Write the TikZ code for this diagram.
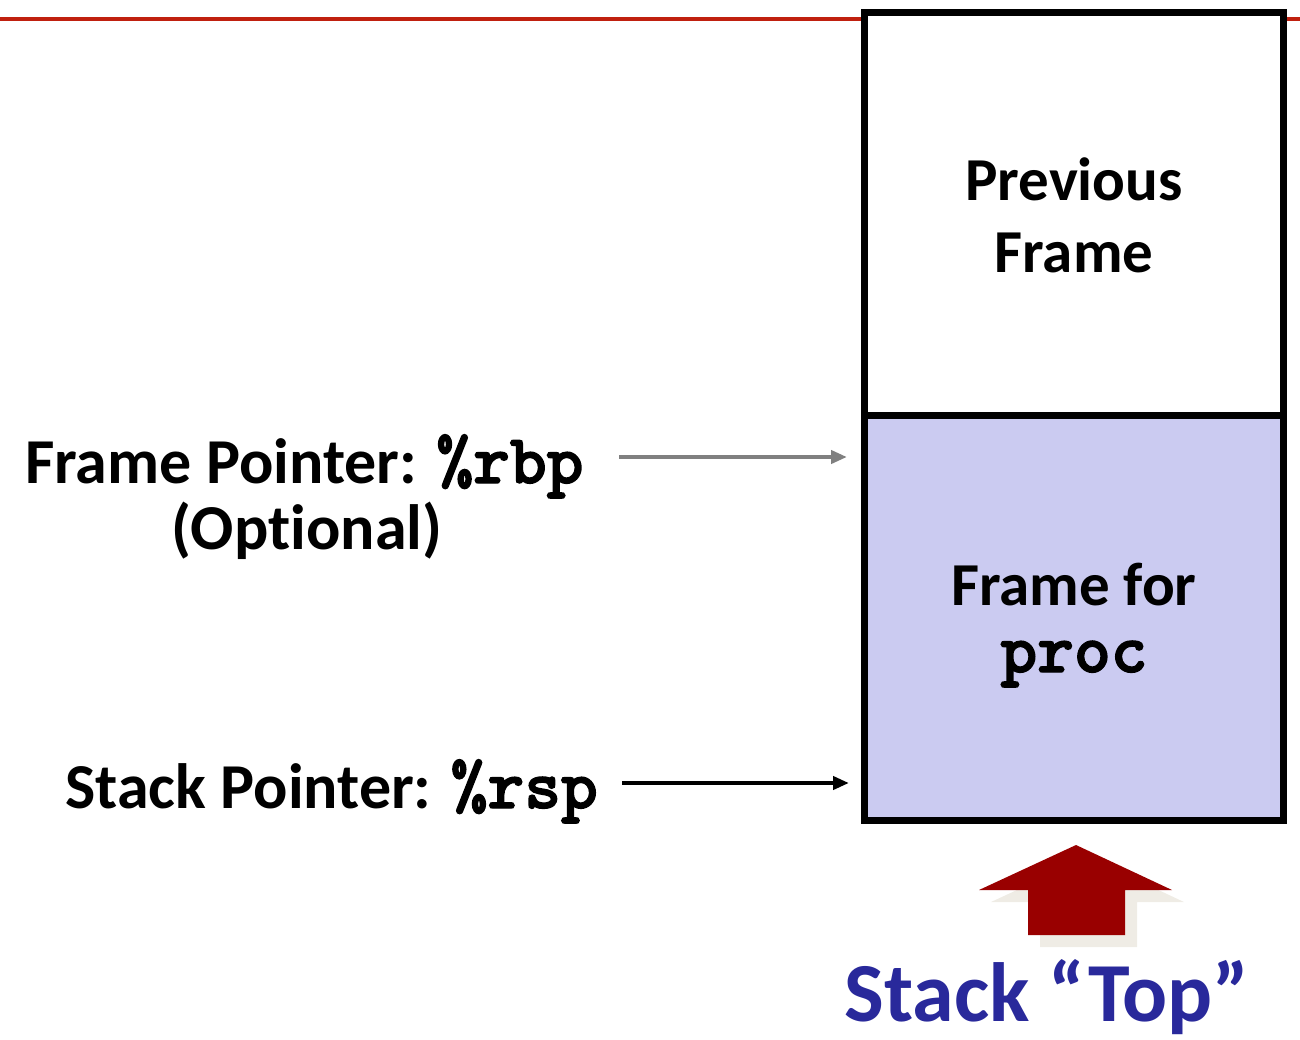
\documentclass[tikz,border=0pt]{standalone}
\usepackage{fontspec}
\setmainfont{Carlito}[Ligatures=NoCommon]
\newfontfamily\codefont{lmmonolt10-bold}[Extension=.otf, FakeBold=2]
\usetikzlibrary{arrows.meta}

\definecolor{rule}{HTML}{C0200F}
\definecolor{procfill}{HTML}{CBCBF1}
\definecolor{toparrow}{HTML}{990000}
\definecolor{toparrowshadow}{HTML}{EFECE5}
\definecolor{toptext}{HTML}{29299B}
\definecolor{ptrgray}{HTML}{808080}

\newcommand{\code}[1]{{\codefont\fontsize{70}{73}\selectfont #1}}

\tikzset{
  frame/.style={draw=black, line width=7pt, minimum width=419pt, inner sep=0pt},
  label/.style={font=\bfseries\fontsize{61}{73}\selectfont, inner sep=0pt, anchor=base},
  sidelabel/.style={label, font=\bfseries\fontsize{64}{73}\selectfont},
  ptr/.style={line width=4pt, -{Triangle[length=16pt,width=13pt]}},
}

\begin{document}
\begin{tikzpicture}[x=1pt, y=-1pt]
  \useasboundingbox (0,0) rectangle (1300,1039);

  % title rule
  \draw[rule, line width=4pt] (0,19) -- (1300,19);

  % stack frames
  \node[frame, fill=procfill, minimum height=404.5pt] (proc) at (1074,617.75) {};
  \node[frame, fill=white, minimum height=403.5pt] (prev) at (1074,213.75) {};

  \node[label] (prevA) at (1074,200) {Previous};
  \node[label] (prevB) at (1074,272) {Frame};
  \node[label] (procA) at (1074,605) {Frame for};
  \node[label] (procB) at (1074,672) {\code{proc}};

  % pointer labels
  \node[sidelabel, anchor=base west] (fp) at (25,483) {Frame Pointer: \code{\%rbp}};
  \node[sidelabel] (fpopt) at (307,549) {(Optional)};
  \node[sidelabel, anchor=base west] (sp) at (65,808) {Stack Pointer: \code{\%rsp}};

  \coordinate (fpFrom) at (619,457);
  \coordinate (fpTo) at (847,457);
  \coordinate (spFrom) at (622,783);
  \coordinate (spTo) at (849,783);
  \draw[ptr, ptrgray] (fpFrom) -- (fpTo);
  \draw[ptr, black] (spFrom) -- (spTo);

  % stack top arrow with its shadow
  \fill[toparrowshadow, shift={(12,12)}]
    (1076,845) -- (1172,890) -- (1125,890) -- (1125,935) -- (1028,935)
    -- (1028,890) -- (979,890) -- cycle;
  \fill[toparrow]
    (1076,845) -- (1172,890) -- (1125,890) -- (1125,935) -- (1028,935)
    -- (1028,890) -- (979,890) -- cycle;

  \node[label, font=\bfseries\fontsize{84}{96}\selectfont, text=toptext] (top) at (1047,1021) {Stack “Top”};
\end{tikzpicture}
\end{document}
